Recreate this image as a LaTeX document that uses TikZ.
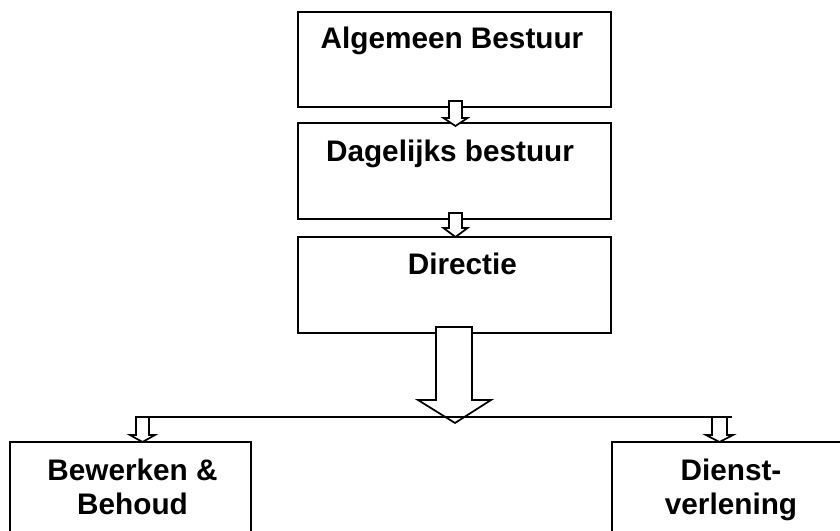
\documentclass[tikz,border=0pt]{standalone}
\usepackage{fontspec}
\setmainfont{Liberation Sans}
\usetikzlibrary{fit}
\begin{document}
\begin{tikzpicture}[x=0.75pt,y=-0.75pt,line width=1.3pt,
  box/.style={draw,line width=1.3pt,inner sep=0pt,fill=white},
  lbl/.style={inner sep=0pt,font=\bfseries\fontsize{22.3}{26}\selectfont},
  barrow/.style={draw,fill=white,line width=1.3pt,line join=miter}]
\clip (0,0) rectangle (840,531);
\fill[white] (0,0) rectangle (840,531);
% boxes
\node[box,fit={(298,12) (611,107)}] (b1) {};
\node[box,fit={(298,123) (611,219)}] (b2) {};
\node[box,fit={(298,237) (611,333)}] (b3) {};
\node[box,fit={(10,442) (251,545)}] (b4) {};
\node[box,fit={(612,442) (860,545)}] (b5) {};
% labels
\node[lbl,anchor=base] (t1) at (452,49) {Algemeen Bestuur};
\node[lbl,anchor=base] (t2) at (450,162) {Dagelijks bestuur};
\node[lbl,anchor=base west] (t3) at (407,275) {Directie};
\node[lbl,anchor=base] (t4a) at (132.5,480) {Bewerken \&};
\node[lbl,anchor=base] (t4b) at (132.5,514) {Behoud};
\node[lbl,anchor=base] (t5a) at (731,480) {Dienst-};
\node[lbl,anchor=base] (t5b) at (731,514) {verlening};
% block arrows
\draw[barrow] (449,101) -- (462,101) -- (462,118) -- (467.5,118) -- (455.5,126) -- (443.5,118) -- (449,118) -- cycle;
\draw[barrow] (449,213) -- (462,213) -- (462,228) -- (467.5,228) -- (455.5,237) -- (443.5,228) -- (449,228) -- cycle;
\draw[barrow] (436,327) -- (472,327) -- (472,400) -- (491,400) -- (455,423) -- (418,400) -- (436,400) -- cycle;
\draw[barrow] (136,417) -- (149,417) -- (149,435) -- (155,435) -- (142.5,442) -- (130,435) -- (136,435) -- cycle;
\draw[barrow] (712,417) -- (727,417) -- (727,435) -- (733,435) -- (719.5,442) -- (706,435) -- (712,435) -- cycle;
% horizontal connector
\coordinate (hl) at (136,417);
\coordinate (hr) at (732,417);
\draw (hl) -- (hr);
\end{tikzpicture}
\end{document}
